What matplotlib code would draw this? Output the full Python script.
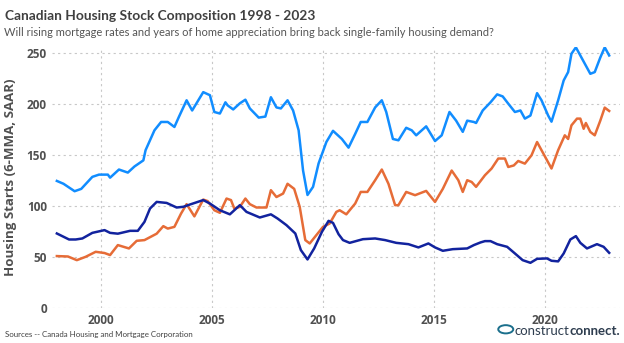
import matplotlib
matplotlib.use("Agg")
import matplotlib.pyplot as plt
from matplotlib.patches import Circle

# Power BI default palette
BLUE = "#118DFF"
ORANGE = "#E66C37"
NAVY = "#12239E"

total_years = [1998.0, 1998.3, 1998.8, 1999.1, 1999.6, 1999.9, 2000.3, 2000.4, 2000.8, 2001.2,
               2001.5, 2001.9, 2002.0, 2002.4, 2002.7, 2003.0, 2003.3, 2003.5, 2003.85, 2004.1,
               2004.6, 2004.9, 2005.1, 2005.35, 2005.6, 2005.7, 2005.95, 2006.25, 2006.5, 2006.7,
               2007.1, 2007.4, 2007.65, 2007.9, 2008.1, 2008.4, 2008.65, 2008.9, 2009.1, 2009.3,
               2009.55, 2009.8, 2010.15, 2010.45, 2010.85, 2011.15, 2011.45, 2011.7, 2012.0, 2012.35,
               2012.65, 2012.85, 2013.15, 2013.4, 2013.75, 2014.0, 2014.2, 2014.65, 2015.05, 2015.35,
               2015.7, 2016.0, 2016.3, 2016.5, 2016.8, 2016.9, 2017.2, 2017.55, 2017.85, 2018.1,
               2018.35, 2018.65, 2018.9, 2019.1, 2019.35, 2019.65, 2019.85, 2020.15, 2020.3, 2020.6,
               2020.85, 2021.05, 2021.2, 2021.4, 2021.6, 2021.8, 2022.05, 2022.25, 2022.5, 2022.7,
               2022.9]
total_starts = [124.8, 122, 114.7, 117, 128.8, 131, 131, 128, 136, 133,
                139, 145, 155, 174.5, 182.7, 182.7, 177.8, 187.6, 204, 194,
                212, 209, 192.5, 191, 202, 199, 195, 201, 204.6, 196,
                187, 188, 207, 197, 196, 204, 194, 174.5, 135, 111,
                119, 142, 163, 174, 166, 157.5, 171, 182.7, 182.7, 197,
                204, 192.5, 166, 164.7, 177, 174.5, 169.6, 178.4, 164, 169.6,
                192.5, 184, 173, 184, 182.7, 181.7, 194, 202, 209.8, 207.8,
                200.7, 192.5, 194, 186, 189, 211, 204, 189, 183, 204,
                223.5, 231.7, 249.7, 256, 248, 240, 230, 231.7, 246, 256,
                248]

multi_years = [1998.0, 1998.5, 1998.9, 1999.3, 1999.75, 2000.15, 2000.4, 2000.75, 2001.25, 2001.6,
               2001.95, 2002.5, 2002.8, 2003.0, 2003.3, 2003.6, 2003.85, 2004.2, 2004.6, 2004.8,
               2005.1, 2005.35, 2005.65, 2005.85, 2006.0, 2006.25, 2006.5, 2006.7, 2007.0, 2007.45,
               2007.65, 2007.9, 2008.2, 2008.4, 2008.7, 2008.95, 2009.2, 2009.4, 2009.7, 2010.0,
               2010.3, 2010.6, 2010.75, 2011.05, 2011.45, 2011.7, 2012.0, 2012.35, 2012.65, 2012.95,
               2013.25, 2013.4, 2013.75, 2014.15, 2014.65, 2015.05, 2015.4, 2015.8, 2016.1, 2016.3,
               2016.5, 2016.7, 2016.9, 2017.3, 2017.6, 2017.9, 2018.2, 2018.35, 2018.6, 2018.8,
               2019.1, 2019.4, 2019.65, 2019.85, 2020.1, 2020.3, 2020.6, 2020.9, 2021.05, 2021.2,
               2021.45, 2021.6, 2021.75, 2021.85, 2022.05, 2022.25, 2022.5, 2022.7, 2022.9]
multi_starts = [51, 50.6, 47, 50.3, 55.2, 54, 52, 61.8, 58.5, 66,
                66.7, 73, 80.4, 78, 79.7, 92.8, 102, 90, 106.5, 105,
                96, 93.5, 107.5, 106, 97.7, 99.3, 107.5, 102, 98.7, 98.7,
                115.7, 109, 112.4, 122, 117, 99.3, 66.7, 63.4, 71.6, 79.7,
                83, 94.4, 96, 92, 102.6, 114, 114, 125.5, 136, 122,
                101, 101, 114, 110.8, 115, 104.2, 117, 135, 125.5, 114,
                125.5, 123.8, 119, 130.4, 137, 146.8, 146.8, 138.5, 140, 144.4,
                141.8, 150, 163, 155, 145, 137, 155, 169.6, 166, 179.4,
                186, 186, 176, 181.7, 172.9, 169.6, 184, 196.8, 193.5]

single_years = [1998.0, 1998.55, 1998.85, 1999.15, 1999.6, 2000.15, 2000.4, 2000.75, 2001.3, 2001.65,
                2001.95, 2002.2, 2002.5, 2002.95, 2003.4, 2003.7, 2004.05, 2004.6, 2004.9, 2005.35,
                2005.8, 2006.25, 2006.55, 2007.15, 2007.65, 2007.95, 2008.35, 2008.75, 2009.0, 2009.3,
                2009.6, 2009.95, 2010.25, 2010.45, 2010.7, 2010.9, 2011.2, 2011.8, 2012.35, 2012.8,
                2013.3, 2013.85, 2014.3, 2014.75, 2015.05, 2015.4, 2015.85, 2016.5, 2016.8, 2017.1,
                2017.3, 2017.55, 2017.85, 2018.3, 2018.65, 2019.0, 2019.35, 2019.65, 2020.1, 2020.3,
                2020.6, 2020.85, 2021.15, 2021.4, 2021.6, 2021.9, 2022.35, 2022.65, 2022.9]
single_starts = [73.2, 67.3, 67.3, 68.3, 73.8, 76.5, 73.8, 73, 75.8, 75.8,
                 84.6, 97.7, 104.2, 103.2, 98.7, 99.4, 102, 106, 102.6, 96,
                 92, 101, 94.4, 88.9, 92, 87.9, 81.4, 73.2, 56.9, 47.7,
                 58.5, 74.8, 85.6, 83.6, 72.5, 66.7, 64, 67.6, 68.3, 66.7,
                 64, 62.7, 59.5, 63.4, 59.5, 56.2, 57.8, 58.5, 61.8, 64.4,
                 65.7, 65.7, 62.7, 60.1, 53.6, 47, 44.4, 48.3, 48.7, 46.4,
                 45.8, 53.6, 67.3, 70.6, 64, 58.5, 62.7, 60.1, 54.2]

year_ticks = [2000, 2005, 2010, 2015, 2020]
start_ticks = [0, 50, 100, 150, 200, 250]

plt.rcParams["font.family"] = ["Open Sans", "DejaVu Sans"]
TEXT_FONT = ["Lato", "DejaVu Sans"]

fig = plt.figure(figsize=(6.24, 3.43), dpi=100)
ax = fig.add_axes([0.084, 0.102, 0.91, 0.76])

ax.plot(total_years, total_starts, color=BLUE, lw=1.8, solid_joinstyle="round")
ax.plot(multi_years, multi_starts, color=ORANGE, lw=1.8, solid_joinstyle="round")
ax.plot(single_years, single_starts, color=NAVY, lw=1.8, solid_joinstyle="round")

ax.set_xlim(1997.8, 2023.4)
ax.set_ylim(0, 256)
ax.set_xticks(year_ticks)
ax.set_yticks(start_ticks)
ax.grid(True, color="#c8c8c8", linestyle=(0, (2, 3)), linewidth=0.8)
ax.set_axisbelow(True)
for s in ax.spines.values():
    s.set_visible(False)
ax.tick_params(length=0, labelsize=8.5, labelcolor="#505050", pad=4)
for lbl in ax.get_xticklabels() + ax.get_yticklabels():
    lbl.set_fontweight("bold")
ax.set_ylabel("Housing Starts (6-MMA, SAAR)", fontsize=9.5, color="#505050",
              fontweight="bold", labelpad=7)

fig.text(0.008, 0.943, "Canadian Housing Stock Composition 1998 - 2023", fontsize=9.9,
         fontweight="bold", color="#404040", va="baseline", family=TEXT_FONT)
fig.text(0.006, 0.895, "Will rising mortgage rates and years of home appreciation bring back "
         "single-family housing demand?", fontsize=8.0, color="#555555", va="baseline",
         family=TEXT_FONT)
fig.text(0.008, 0.018, "Sources -- Canada Housing and Mortgage Corporation", fontsize=5.7,
         color="#404040", va="baseline", family=TEXT_FONT)

# logo text, bottom right
logo_color = "#2e3d4f"
t2 = fig.text(0.994, 0.022, "connect.", fontsize=9.5, fontweight="bold", color=logo_color,
              va="baseline", ha="right", family=TEXT_FONT)
fig.canvas.draw()
bb = t2.get_window_extent()
t1 = fig.text(bb.x0 / fig.bbox.width, 0.022, "construct", fontsize=9.5, color=logo_color,
              va="baseline", ha="right", family=TEXT_FONT)
fig.canvas.draw()
bb1 = t1.get_window_extent()
cx = (bb1.x0 - 9) / fig.bbox.width
fig.patches.append(Circle((cx, 0.04), 0.012, transform=fig.transFigure, fill=False,
                          ec="#1b6f8c", lw=1.4))

fig.savefig("out.png", dpi=100)
